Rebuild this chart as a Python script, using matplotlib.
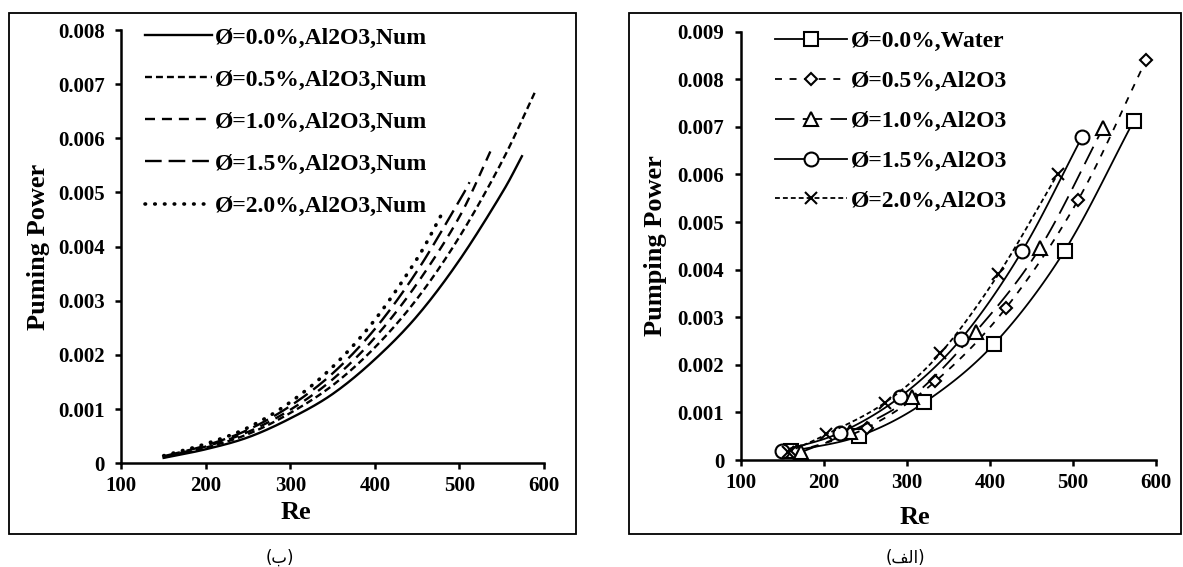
import numpy as np  # vetores numéricos
import matplotlib
matplotlib.use("Agg")  # sem display
import matplotlib.pyplot as plt  # plotar
from matplotlib.patches import Rectangle  # moldura dos painéis

plt.rcParams["font.family"] = ["Liberation Serif", "DejaVu Sans"]  # Times + fallback p/ árabe
plt.rcParams["font.weight"] = "bold"
plt.rcParams["lines.scale_dashes"] = False  # tracejados em pontos

# ---- painel (ب): curvas numéricas ----
re_num_00 = [150, 200, 250, 300, 350, 400, 450, 500, 550, 574]
pp_num_00 = [0.00010, 0.00026, 0.00048, 0.00083, 0.00128, 0.00192, 0.00272, 0.00375, 0.00498, 0.00567]
re_num_05 = [150, 200, 250, 300, 350, 400, 450, 500, 550, 589]
pp_num_05 = [0.00011, 0.00029, 0.00054, 0.00093, 0.00144, 0.00214, 0.00304, 0.00418, 0.00556, 0.00684]
re_num_10 = [150, 200, 250, 300, 350, 400, 450, 500, 537]
pp_num_10 = [0.00012, 0.00031, 0.00058, 0.00099, 0.00155, 0.00232, 0.00332, 0.00455, 0.00577]
re_num_15 = [150, 200, 250, 300, 350, 400, 450, 500, 512]
pp_num_15 = [0.00013, 0.00033, 0.00062, 0.00106, 0.00166, 0.00248, 0.00355, 0.00485, 0.00519]
re_num_20 = [150, 200, 250, 300, 350, 400, 450, 479]
pp_num_20 = [0.00014, 0.00036, 0.00066, 0.00113, 0.00178, 0.00265, 0.00378, 0.00460]
rotulos_num = ["Ø=0.0%,Al2O3,Num", "Ø=0.5%,Al2O3,Num", "Ø=1.0%,Al2O3,Num",
               "Ø=1.5%,Al2O3,Num", "Ø=2.0%,Al2O3,Num"]

# ---- painel (الف): pontos experimentais ----
re_exp_00 = [160, 242, 321, 405, 490, 573]
pp_exp_00 = [0.00018, 0.00050, 0.00121, 0.00244, 0.00440, 0.00712]
re_exp_05 = [168, 252, 334, 419, 506, 588]
pp_exp_05 = [0.00018, 0.00068, 0.00165, 0.00319, 0.00546, 0.00840]
re_exp_10 = [172, 231, 306, 383, 460, 536]
pp_exp_10 = [0.00016, 0.00059, 0.00133, 0.00270, 0.00445, 0.00697]
re_exp_15 = [149, 219, 292, 365, 439, 511]
pp_exp_15 = [0.00019, 0.00057, 0.00133, 0.00254, 0.00440, 0.00679]
re_exp_20 = [157, 203, 273, 340, 410, 482]
pp_exp_20 = [0.00017, 0.00054, 0.00120, 0.00224, 0.00390, 0.00602]
rotulos_exp = ["Ø=0.0%,Water", "Ø=0.5%,Al2O3", "Ø=1.0%,Al2O3",
               "Ø=1.5%,Al2O3", "Ø=2.0%,Al2O3"]

ticks_x = [100, 200, 300, 400, 500, 600]
ticks_y_esq = ["0", "0.001", "0.002", "0.003", "0.004", "0.005", "0.006", "0.007", "0.008"]
ticks_y_dir = ticks_y_esq + ["0.009"]


def suave(x, y, n=24):
    # linha suavizada (Catmull-Rom) passando pelos pontos, como no Excel
    p = np.column_stack([x, y]).astype(float)
    p = np.vstack([2 * p[0] - p[1], p, 2 * p[-1] - p[-2]])
    t = np.linspace(0, 1, n)[:, None]
    seg = []
    for i in range(1, len(p) - 2):
        p0, p1, p2, p3 = p[i - 1], p[i], p[i + 1], p[i + 2]
        c = 0.5 * ((2 * p1) + (-p0 + p2) * t + (2 * p0 - 5 * p1 + 4 * p2 - p3) * t ** 2
                   + (-p0 + 3 * p1 - 3 * p2 + p3) * t ** 3)
        seg.append(c if i == 1 else c[1:])
    c = np.vstack(seg)
    return c[:, 0], c[:, 1]


def eixo(ax, ymax, ylabels, ylab, pos_ylab, pos_xlab):
    # estilo comum dos dois gráficos
    for s in ["top", "right"]:
        ax.spines[s].set_visible(False)
    for s in ["left", "bottom"]:
        ax.spines[s].set_linewidth(1.8)
    ax.set_xlim(100, 600)
    ax.set_ylim(0, ymax)
    ax.set_xticks(ticks_x)
    ax.set_yticks(np.arange(len(ylabels)) * 0.001)
    ax.set_yticklabels(ylabels)
    ax.tick_params(direction="out", length=4.5, width=1.8, labelsize=15)
    ax.tick_params(axis="y", pad=7.5)
    ax.tick_params(axis="x", pad=5)
    ax.set_xlabel("Re", fontsize=19, fontweight="bold")
    ax.set_ylabel(ylab, fontsize=19, fontweight="bold")
    ax.yaxis.set_label_coords(*pos_ylab)
    ax.xaxis.set_label_coords(*pos_xlab)
    ax.patch.set_alpha(0)


fig = plt.figure(figsize=(11.83, 5.67), dpi=100)  # 1183x567 px

# molduras dos dois painéis
fig.patches.append(Rectangle((9 / 1183, 1 - 534 / 567), 567 / 1183, 521 / 567,
                             transform=fig.transFigure, fill=False, lw=1.3, ec="black"))
fig.patches.append(Rectangle((629 / 1183, 1 - 534 / 567), 552 / 1183, 521 / 567,
                             transform=fig.transFigure, fill=False, lw=1.3, ec="black"))

# ---- gráfico da esquerda ----
ax1 = fig.add_axes([121.4 / 1183, 1 - 463.3 / 567, 422.5 / 1183, 433.3 / 567])
estilos_num = [None, (5, 2.9), (7.2, 5), (12, 5), (0.4, 6.6)]
dados_num = [(re_num_00, pp_num_00), (re_num_05, pp_num_05), (re_num_10, pp_num_10),
             (re_num_15, pp_num_15), (re_num_20, pp_num_20)]
for (xr, yp), est, rot in zip(dados_num, estilos_num, rotulos_num):
    xs, ys = suave(xr, yp)
    ln, = ax1.plot(xs, ys, color="black", lw=1.7, label=rot)
    if est is not None:
        ln.set_dashes(est)
    if est == (0.4, 6.6):
        ln.set_lw(2.6)  # pontilhado com pontos redondos
        ln.set_dash_capstyle("round")
eixo(ax1, 0.008, ticks_y_esq, "Puming Power", (-0.17, 0.5), (0.414, -0.087))
ax1.legend(loc="upper left", bbox_to_anchor=(0.056, 1.007), frameon=False, fontsize=17,
           handlelength=2.84, handletextpad=0.1, labelspacing=0.87, borderpad=0, borderaxespad=0)

# ---- gráfico da direita ----
ax2 = fig.add_axes([741 / 1183, 1 - 460 / 567, 415 / 1183, 428.3 / 567])
dados_exp = [(re_exp_00, pp_exp_00), (re_exp_05, pp_exp_05), (re_exp_10, pp_exp_10),
             (re_exp_15, pp_exp_15), (re_exp_20, pp_exp_20)]
marcadores = ["s", "D", "^", "o", "x"]
tamanhos = [10.5, 6.5, 9.5, 10, 9]
estilos_exp = [None, (5, 5.5), (14, 6), None, (3.5, 2.2)]
for (xr, yp), m, ms, est, rot in zip(dados_exp, marcadores, tamanhos, estilos_exp, rotulos_exp):
    xs, ys = suave(xr, yp)
    ln, = ax2.plot(xs, ys, color="black", lw=1.3)
    if est is not None:
        ln.set_dashes(est)
    ax2.plot(xr, yp, linestyle="none", marker=m, ms=ms, mfc="white", mec="black", mew=1.5)
    # entrada da legenda: linha + marcador
    h, = ax2.plot([], [], color="black", lw=1.3, marker=m, ms=ms, mfc="white", mec="black",
                  mew=1.5, label=rot)
    if est is not None:
        h.set_dashes(est)
eixo(ax2, 0.009, ticks_y_dir, "Pumping Power", (-0.178, 0.5), (0.42, -0.107))
ax2.legend(loc="upper left", bbox_to_anchor=(0.082, 1.003), frameon=False, fontsize=17,
           handlelength=3.05, handletextpad=0.17, labelspacing=0.78, borderpad=0, borderaxespad=0)

# legendas dos painéis (texto persa em formas de apresentação)
fig.text(280 / 1183, 1 - 558 / 567, "(ب)", ha="center", va="center", fontsize=12,
         fontweight="normal", family=["DejaVu Sans"])
fig.text(905 / 1183, 1 - 558 / 567, "(ﻒﻟﺍ)", ha="center", va="center", fontsize=12,
         fontweight="normal", family=["DejaVu Sans"])

fig.savefig("out.png", dpi=100)
